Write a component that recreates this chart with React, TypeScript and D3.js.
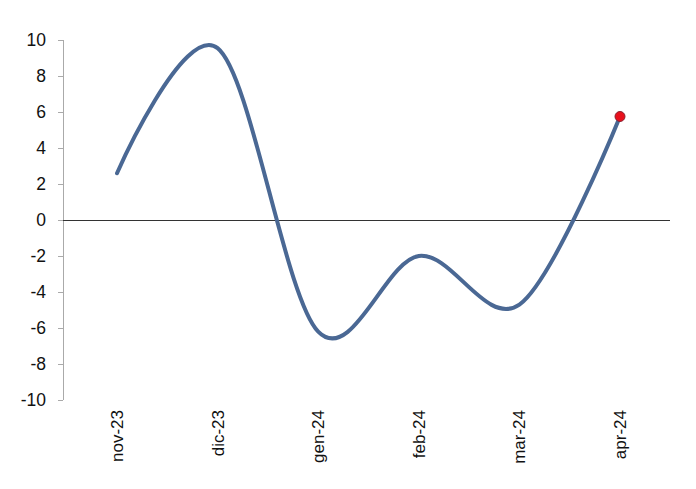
import React from "react";
import * as d3 from "d3";

const categories = ["nov-23", "dic-23", "gen-24", "feb-24", "mar-24", "apr-24"];
const values = [2.6, 9.55, -6.2, -2.0, -4.7, 5.75];
const yTicks = [-10, -8, -6, -4, -2, 0, 2, 4, 6, 8, 10];

export default function App() {
  const W = 696, H = 489;
  const x = d3.scalePoint<string>().domain(categories).range([117, 620]);
  const y = d3.scaleLinear().domain([-10, 10]).range([400, 40]);
  const line = d3
    .line<number>()
    .x((_, i) => x(categories[i]) as number)
    .y((d) => y(d))
    .curve(d3.curveCardinal.tension(0));
  const last = values.length - 1;
  const font = "Arial, 'Liberation Sans', sans-serif";
  return (
    <svg width={W} height={H} style={{ position: "absolute", left: 0, top: 0, background: "#fff" }}>
      <line x1={63.5} x2={63.5} y1={40} y2={400} stroke="#aaa" strokeWidth={1} />
      {yTicks.map((t) => (
        <g key={t}>
          <line x1={58} x2={63} y1={y(t) + 0.5} y2={y(t) + 0.5} stroke="#aaa" strokeWidth={1} />
          <text x={46} y={y(t)} dy="0.35em" textAnchor="end" fontFamily={font} fontSize={17.5} fill="#111">
            {t}
          </text>
        </g>
      ))}
      <line x1={63} x2={670} y1={y(0) + 0.5} y2={y(0) + 0.5} stroke="#333" strokeWidth={1} />
      {categories.map((c) => (
        <text
          key={c}
          transform={`translate(${(x(c) as number) + 6},410) rotate(-90)`}
          textAnchor="end"
          fontFamily={font}
          fontSize={17}
          fill="#111"
        >
          {c}
        </text>
      ))}
      <path d={line(values) || ""} fill="none" stroke="#4a6894" strokeWidth={4} strokeLinecap="round" />
      <circle cx={x(categories[last]) as number} cy={y(values[last])} r={5} fill="#e8101c" stroke="#8a2030" strokeWidth={1} />
    </svg>
  );
}
